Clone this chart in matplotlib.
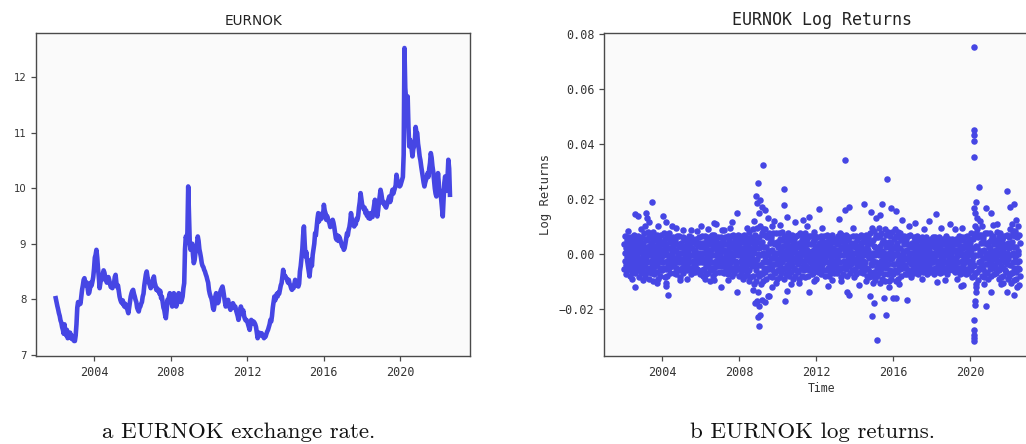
import numpy as np
import matplotlib
matplotlib.use("Agg")
import matplotlib.pyplot as plt
from matplotlib.ticker import FixedLocator, FuncFormatter

# ---------------- data: EURNOK semi-monthly levels ----------------
eurnok_2002 = [8.02, 7.95, 7.88, 7.82, 7.75, 7.70, 7.62, 7.58, 7.50, 7.45, 7.38, 7.55,
               7.42, 7.35, 7.45, 7.30, 7.38, 7.33, 7.40, 7.30, 7.35, 7.28, 7.32, 7.25]
eurnok_2003 = [7.25, 7.35, 7.55, 7.85, 7.95, 7.90, 7.95, 7.92, 8.05, 8.17, 8.25, 8.35,
               8.38, 8.30, 8.25, 8.30, 8.20, 8.10, 8.12, 8.20, 8.30, 8.25, 8.32, 8.40]
eurnok_2004 = [8.55, 8.75, 8.80, 8.89, 8.75, 8.55, 8.40, 8.20, 8.30, 8.42, 8.35, 8.45,
               8.52, 8.48, 8.40, 8.35, 8.30, 8.38, 8.40, 8.35, 8.28, 8.22, 8.25, 8.20]
eurnok_2005 = [8.25, 8.28, 8.40, 8.44, 8.30, 8.22, 8.25, 8.15, 8.05, 7.99, 7.95, 7.93,
               7.98, 7.90, 7.87, 7.92, 7.85, 7.88, 7.80, 7.75, 7.85, 7.95, 8.05, 8.11]
eurnok_2006 = [8.15, 8.17, 8.10, 8.05, 7.99, 7.95, 7.85, 7.81, 7.78, 7.85, 7.87, 7.92,
               7.95, 8.05, 8.10, 8.25, 8.35, 8.45, 8.50, 8.40, 8.35, 8.29, 8.25, 8.20]
eurnok_2007 = [8.23, 8.30, 8.35, 8.41, 8.30, 8.25, 8.17, 8.20, 8.15, 8.17, 8.10, 8.15,
               8.02, 8.05, 7.95, 7.85, 7.81, 7.72, 7.66, 7.80, 7.99, 7.95, 8.05, 8.11]
eurnok_2008 = [8.05, 7.95, 7.87, 7.95, 8.11, 8.05, 7.95, 7.87, 7.92, 8.05, 8.11, 7.98,
               8.02, 7.95, 7.99, 8.05, 8.20, 8.29, 8.90, 9.13, 9.07, 9.20, 10.03, 9.49]
eurnok_2009 = [9.00, 8.89, 8.95, 9.00, 8.80, 8.65, 8.70, 8.83, 8.90, 9.00, 9.13, 9.05,
               8.90, 8.83, 8.75, 8.65, 8.60, 8.58, 8.53, 8.50, 8.45, 8.41, 8.35, 8.30]
eurnok_2010 = [8.17, 8.10, 8.05, 8.02, 7.95, 7.85, 7.81, 7.90, 8.05, 8.11, 8.00, 7.93,
               7.95, 8.05, 8.12, 8.17, 8.20, 8.23, 8.15, 8.05, 7.95, 7.87, 7.92, 7.95]
eurnok_2011 = [7.99, 7.90, 7.85, 7.81, 7.85, 7.90, 7.93, 7.90, 7.85, 7.87, 7.80, 7.75,
               7.70, 7.63, 7.70, 7.80, 7.87, 7.82, 7.75, 7.80, 7.70, 7.65, 7.62, 7.63]
eurnok_2012 = [7.60, 7.55, 7.50, 7.45, 7.55, 7.63, 7.60, 7.57, 7.60, 7.58, 7.55, 7.50,
               7.40, 7.30, 7.35, 7.40, 7.38, 7.35, 7.39, 7.36, 7.33, 7.30, 7.35, 7.33]
eurnok_2013 = [7.38, 7.42, 7.45, 7.50, 7.55, 7.63, 7.60, 7.70, 7.85, 7.95, 8.05, 7.98,
               8.05, 8.10, 8.05, 8.12, 8.10, 8.18, 8.25, 8.29, 8.40, 8.53, 8.45, 8.41]
eurnok_2014 = [8.41, 8.38, 8.35, 8.30, 8.35, 8.28, 8.25, 8.20, 8.17, 8.22, 8.20, 8.28,
               8.35, 8.30, 8.25, 8.30, 8.23, 8.28, 8.50, 8.60, 8.75, 8.90, 9.15, 9.31]
eurnok_2015 = [9.00, 8.77, 8.85, 8.70, 8.60, 8.50, 8.41, 8.55, 8.71, 8.60, 8.80, 8.90,
               9.00, 9.19, 9.15, 9.30, 9.45, 9.55, 9.40, 9.50, 9.49, 9.45, 9.55, 9.49]
eurnok_2016 = [9.70, 9.60, 9.55, 9.43, 9.50, 9.45, 9.40, 9.37, 9.30, 9.40, 9.35, 9.43,
               9.38, 9.30, 9.20, 9.10, 9.07, 9.15, 9.05, 9.13, 9.10, 9.05, 9.00, 8.95]
eurnok_2017 = [8.95, 8.89, 8.92, 9.00, 9.10, 9.19, 9.15, 9.25, 9.30, 9.40, 9.55, 9.45,
               9.40, 9.35, 9.31, 9.40, 9.35, 9.45, 9.43, 9.50, 9.65, 9.75, 9.91, 9.80]
eurnok_2018 = [9.70, 9.67, 9.62, 9.65, 9.55, 9.60, 9.50, 9.55, 9.46, 9.50, 9.45, 9.55,
               9.50, 9.48, 9.60, 9.70, 9.79, 9.65, 9.55, 9.49, 9.60, 9.75, 9.85, 9.97]
eurnok_2019 = [9.90, 9.80, 9.73, 9.75, 9.70, 9.67, 9.65, 9.70, 9.75, 9.80, 9.85, 9.75,
               9.80, 9.90, 9.97, 9.90, 9.95, 10.00, 10.05, 10.24, 10.15, 10.10, 10.05, 10.03]
eurnok_2020 = [10.05, 10.10, 10.15, 10.20, 10.60, 12.52, 11.80, 11.59, 11.40, 11.65, 11.10, 10.75,
               10.87, 10.80, 10.70, 10.57, 10.70, 10.75, 10.85, 11.10, 11.00, 10.99, 10.80, 10.70]
eurnok_2021 = [10.57, 10.50, 10.39, 10.30, 10.20, 10.10, 10.03, 10.10, 10.15, 10.20, 10.27, 10.20,
               10.35, 10.45, 10.63, 10.55, 10.40, 10.30, 10.15, 10.00, 9.90, 9.85, 10.05, 10.27]
eurnok_2022 = [10.10, 9.91, 9.95, 9.80, 9.65, 9.49, 9.80, 10.10, 10.21, 10.00, 9.95, 10.20,
               10.51, 10.35, 9.88]

# ---------------- data: daily log returns (x 1e-3), band ----------------
ret_2002 = [3.5,-5.5,0.5,6.5,-2.5,-7.5,2,-4,5,-1, -6,1.5,4.5,-3,6,-0.5,-5,2.5,-8,5.5,
            0,-4.5,6,-2,3,-6.5,1,-3.5,4,-1.5, 7,-5,2,-0.5,-7,4.5,-2.5,5.5,-4,1,
            -1,3,-6,6.5,-3,0.5,-8.5,4,-2,2.5, 5,-4.5,1.5,-7,3.5,-1.5,6,-5.5,0,-3]
ret_2003 = [4,-6.5,1,7.5,-2,-8.5,2.5,-4.5,5.5,-1, -7,1.5,5,-3,8,-0.5,-5.5,3,-9,6,
            0,-5,6.5,-2.5,3.5,-7,1,-3.5,4.5,-1.5, 8,-5.5,2,-0.5,-7.5,5,-2.5,6,-4.5,1.5,
            -1,3,-6.5,7,-3.5,0.5,-9,4,-2,2.5, 5.5,-5,1.5,-8,3.5,-1.5,7,-6,0,-3]
ret_2004 = [-6,1.5,4.5,-3,7.5,-0.5,-5,2.5,-8.5,5.5, 3.5,-5.5,0.5,7,-2.5,-8,2,-4,6,-1,
            7.5,-5,2,-0.5,-7,4.5,-2.5,5.5,-4,1, 0,-4.5,6,-2,3,-7,1,-3.5,4,-1.5,
            5,-5,1.5,-7.5,3.5,-1.5,6.5,-5.5,0,-3, -1,3,-6,6.5,-3,0.5,-8.5,4,-2,2.5]
ret_2005 = [3,-5,0.5,6,-2.5,-7,2,-4,5,-1, 0,-4.5,5.5,-2,3,-6,1,-3.5,4,-1.5,
            -5.5,1.5,4.5,-3,6.5,-0.5,-5,2.5,-7.5,5, 6,-5,2,-0.5,-6.5,4.5,-2.5,5,-4,1,
            4.5,-4.5,1.5,-6.5,3.5,-1.5,5.5,-5.5,0,-3, -1,3,-6,6,-3,0.5,-7.5,4,-2,2.5]
ret_2006 = [-1,3,-6,6.5,-3,0.5,-8,4,-2,2.5, 3.5,-5.5,0.5,6.5,-2.5,-7.5,2,-4,5,-1,
            5,-4.5,1.5,-7,3.5,-1.5,6,-5.5,0,-3, -6,1.5,4.5,-3,7,-0.5,-5,2.5,-8,5.5,
            7,-5,2,-0.5,-7,4.5,-2.5,5.5,-4,1, 0,-4.5,6,-2,3,-6.5,1,-3.5,4,-1.5]
ret_2007 = [0,-4.5,6,-2,3,-6.5,1,-3.5,4,-1.5, 5,-4.5,1.5,-7,3.5,-1.5,6,-5.5,0,-3,
            3.5,-5.5,0.5,6.5,-2.5,-7.5,2,-4,5,-1, -1,3,-6,6.5,-3,0.5,-8,4,-2,2.5,
            7,-5,2,-0.5,-7,4.5,-2.5,5.5,-4,1, -6,1.5,4.5,-3,7,-0.5,-5,2.5,-8,5.5]
ret_2008 = [3.5,-5.5,0.5,6.5,-2.5,-7.5,2,-4,5,-1, -6,1.5,4.5,-3,7,-0.5,-5,2.5,-8,5.5,
            0,-4.5,6,-2,3,-7,1,-3.5,4,-1.5, 8,-6,2,-0.5,-8.5,5,-3,6,-4.5,1,
            -1.5,4,-8,9,-4,0.5,-11,5,-2.5,3, 7,-6,2,-10,4.5,-2,9.5,-7.5,0,-4]
ret_2009 = [-8,2,6,-4,10,-0.5,-7,3,-11,7.5, 4.5,-7.5,0.5,9,-3,-10,2.5,-5,7,-1,
            9,-6.5,2.5,-0.5,-9,6,-3,7,-5,1, 0,-5.5,7.5,-2.5,4,-8,1,-4,5,-1.5,
            6,-5.5,1.5,-8.5,4,-1.5,7.5,-6.5,0,-3.5, -1,3.5,-7,7.5,-3.5,0.5,-9,4.5,-2,2.5]
ret_2010 = [4,-6,0.5,7.5,-2.5,-8.5,2,-4.5,5.5,-1, -7,1.5,5,-3,8,-0.5,-5.5,3,-9,6,
            0,-5,6.5,-2,3.5,-7.5,1,-4,4.5,-1.5, 7.5,-5.5,2,-0.5,-8,5,-2.5,6,-4.5,1,
            -1,3,-6.5,7,-3.5,0.5,-9,4,-2,2.5, 5.5,-5,1.5,-8,3.5,-1.5,6.5,-6,0,-3]
ret_2011 = [-1,3,-6.5,7,-3.5,0.5,-9,4,-2,2.5, 7.5,-5.5,2,-0.5,-8,5,-2.5,6,-4.5,1,
            4,-6,0.5,7.5,-2.5,-8.5,2,-4.5,5.5,-1, 5.5,-5,1.5,-8,3.5,-1.5,6.5,-6,0,-3,
            0,-5,6.5,-2,3.5,-7.5,1,-4,4.5,-1.5, -7,1.5,5,-3,8,-0.5,-5.5,3,-9,6]
ret_2012 = [0,-4.5,6,-2,3,-6.5,1,-3.5,4,-1.5, 3.5,-5.5,0.5,6.5,-2.5,-7.5,2,-4,5,-1,
            -1,3,-6,6.5,-3,0.5,-8,4,-2,2.5, -6,1.5,4.5,-3,7,-0.5,-5,2.5,-8,5.5,
            5,-4.5,1.5,-7,3.5,-1.5,6,-5.5,0,-3, 7,-5,2,-0.5,-7,4.5,-2.5,5.5,-4,1]
ret_2013 = [5,-4.5,1.5,-7,3.5,-1.5,6.5,-5.5,0,-3, -6,1.5,4.5,-3,7.5,-0.5,-5,2.5,-8.5,5.5,
            7,-5,2,-0.5,-7.5,4.5,-2.5,5.5,-4,1, 3.5,-5.5,0.5,7,-2.5,-8,2,-4,5,-1,
            0,-4.5,6,-2,3,-7,1,-3.5,4,-1.5, -1,3,-6,6.5,-3,0.5,-8.5,4,-2,2.5]
ret_2014 = [3.5,-5.5,0.5,6.5,-2.5,-7.5,2,-4,5,-1, 0,-4.5,6,-2,3,-6.5,1,-3.5,4,-1.5,
            7,-5,2,-0.5,-7,4.5,-2.5,5.5,-4,1, -6,1.5,4.5,-3,7,-0.5,-5,2.5,-8,5.5,
            6,-5.5,1.5,-8.5,4,-1.5,7.5,-6.5,0,-3.5, -1.5,4,-8,9.5,-4,0.5,-10.5,5,-2.5,3]
ret_2015 = [8.5,-6.5,2.5,-0.5,-9.5,6,-3,7,-5,1, -8,2,6,-4,9.5,-0.5,-7,3,-10.5,7,
            0,-5.5,7.5,-2.5,4,-9,1,-4,5,-1.5, 4.5,-7.5,0.5,9,-3,-10,2.5,-5,7,-1,
            -1,3.5,-7.5,8,-3.5,0.5,-10,4.5,-2,2.5, 6.5,-6,1.5,-9,4,-1.5,8,-7,0,-3.5]
ret_2016 = [-7.5,2,5.5,-3.5,9,-0.5,-6,3,-10,6.5, 4,-6.5,0.5,8,-2.5,-9,2,-4.5,6,-1,
            7.5,-5.5,2,-0.5,-8,5,-2.5,6,-4.5,1, 0,-5,6.5,-2,3.5,-7.5,1,-4,4.5,-1.5,
            5.5,-5,1.5,-7.5,3.5,-1.5,6.5,-6,0,-3, -1,3,-6.5,7,-3.5,0.5,-8.5,4,-2,2.5]
ret_2017 = [3,-5,0.5,6,-2.5,-7,2,-4,5,-1, -5.5,1.5,4.5,-3,6.5,-0.5,-5,2.5,-7.5,5,
            0,-4.5,5.5,-2,3,-6,1,-3.5,4,-1.5, 6,-5,2,-0.5,-6.5,4.5,-2.5,5,-4,1,
            -1,3,-6,6,-3,0.5,-7.5,4,-2,2.5, 4.5,-4.5,1.5,-6.5,3.5,-1.5,5.5,-5.5,0,-3]
ret_2018 = [-1,3,-6,6,-3,0.5,-7.5,4,-2,2.5, 6,-5,2,-0.5,-6.5,4.5,-2.5,5,-4,1,
            3,-5,0.5,6,-2.5,-7,2,-4,5,-1, 4.5,-4.5,1.5,-6.5,3.5,-1.5,5.5,-5.5,0,-3,
            -5.5,1.5,4.5,-3,6.5,-0.5,-5,2.5,-7.5,5, 0,-4.5,5.5,-2,3,-6,1,-3.5,4,-1.5]
ret_2019 = [0,-4.5,5.5,-2,3,-6,1,-3.5,4,-1.5, 4.5,-4.5,1.5,-6.5,3.5,-1.5,5.5,-5.5,0,-3,
            -5.5,1.5,4.5,-3,6.5,-0.5,-5,2.5,-7.5,5, 3,-5,0.5,6,-2.5,-7,2,-4,5,-1,
            -1,3,-6,6,-3,0.5,-7.5,4,-2,2.5, 6.5,-5.5,2,-0.5,-7,4.5,-2.5,5.5,-4,1]
ret_2020 = [4,-6,0.5,7.5,-2.5,-8.5,2,-4.5,5.5,-1, -8,2,6,-4,10,-0.5,-7,3,-11,7.5,
            9,-6.5,2.5,-0.5,-9.5,6,-3,7,-5,1, 0,-5.5,7,-2.5,4,-8,1,-4,5,-1.5,
            6,-5.5,1.5,-8.5,4,-1.5,7.5,-6.5,0,-3.5, -1,3.5,-7,7.5,-3.5,0.5,-9,4.5,-2,2.5]
ret_2021 = [7.5,-5.5,2,-0.5,-8,5,-2.5,6,-4.5,1, 0,-5,6.5,-2,3.5,-7.5,1,-4,4.5,-1.5,
            -7,1.5,5,-3,8,-0.5,-5.5,3,-9,6, 4,-6,0.5,7.5,-2.5,-8.5,2,-4.5,5.5,-1,
            5.5,-5,1.5,-8,3.5,-1.5,6.5,-6,0,-3, -1,3,-6.5,7,-3.5,0.5,-9,4,-2,2.5]
ret_2022 = [-8,2,6,-4,9,-0.5,-7,3,-10.5,7, 4.5,-7,0.5,8.5,-3,-9.5,2.5,-5,6.5,-1,
            8.5,-6.5,2.5,-0.5,-9,6,-3,7,-5,1, 0,-5.5,7,-2.5,4,-8]

# isolated large returns (date as decimal year, value x 1e-3)
outlier_dates = [2002.58, 2002.75, 2002.60, 2003.15, 2003.23, 2003.10, 2003.45, 2003.30, 2003.00, 2003.70,
                 2004.05, 2004.20, 2004.50, 2004.17, 2004.20, 2004.30, 2005.10, 2005.50, 2006.00, 2006.70,
                 2006.80, 2007.10, 2007.20, 2007.64, 2007.86, 2006.20, 2006.70, 2007.05, 2007.86, 2008.20,
                 2008.85, 2008.95, 2009.25, 2008.90, 2009.10, 2009.20, 2009.35, 2009.50, 2008.75, 2009.00,
                 2008.82, 2008.90, 2008.98, 2009.04, 2009.10, 2009.20, 2009.35, 2009.50, 2008.70, 2009.00,
                 2008.95, 2010.35, 2010.35, 2010.50, 2010.90, 2011.30, 2011.60, 2012.17, 2009.57, 2010.38,
                 2010.50, 2011.10, 2011.65, 2012.60, 2009.80, 2009.70, 2013.17, 2013.48, 2013.50, 2013.70,
                 2014.47, 2013.60, 2013.69, 2014.20, 2014.87, 2015.40, 2015.69, 2015.90, 2016.17, 2016.45,
                 2014.80, 2014.92, 2015.00, 2015.18, 2015.50, 2015.65, 2016.00, 2016.17, 2016.70, 2015.30,
                 2015.10, 2015.80, 2017.15, 2017.88, 2018.20, 2018.96, 2019.60, 2018.30, 2019.50, 2019.65,
                 2020.20, 2020.19, 2020.20, 2020.21, 2020.19, 2020.45, 2020.30, 2020.22, 2020.25, 2020.35,
                 2020.20, 2020.20, 2020.21, 2020.19, 2020.22, 2020.25, 2020.24, 2020.32, 2020.83, 2020.30,
                 2020.50, 2020.83, 2021.10, 2021.90, 2022.05, 2022.30, 2022.40, 2022.50, 2021.10, 2021.90,
                 2022.30, 2022.45, 2021.40, 2021.60]
outlier_values = [14.5, 13.9, -12.2, 14.9, 13.0, 10.0, 18.9, 11.5, -9.5, -10.5,
                  13.7, 11.8, 10.0, -10.7, -11.7, -14.8, 8.8, 8.8, 10.2, 11.2,
                  11.0, 8.8, 8.8, 11.5, 14.9, -9.3, -9.5, -12.2, -13.8, -9.0,
                  21.0, 26.0, 32.3, 18.5, 19.8, 17.0, 16.0, 13.0, 12.0, 15.0,
                  -18.0, -17.0, -23.0, -26.3, -22.3, -16.8, -17.4, -15.4, -13.0, -19.0,
                  -14.0, 23.5, 17.8, 13.6, 11.8, 12.4, 13.6, 16.2, -15.3, -17.3,
                  -13.5, -10.7, -13.7, -11.6, 12.0, -12.0, 12.7, 34.4, 16.0, 17.2,
                  18.2, -13.7, -14.9, -11.3, 15.4, 18.2, 27.4, 16.6, 15.8, 12.5,
                  -15.5, -22.5, -17.9, -31.5, -16.1, -22.2, -15.9, -16.0, -16.7, 14.0,
                  13.0, -12.0, 11.4, 12.1, 14.4, 10.9, 9.3, -10.4, -11.6, -11.3,
                  75.4, 45.3, 43.3, 41.2, 35.2, 24.5, 18.8, 16.6, 15.0, 13.0,
                  -31.9, -30.7, -29.5, -27.9, -24.2, -18.5, -17.0, -13.7, -18.9, -12.0,
                  12.0, 16.6, 15.0, 23.0, 17.0, 18.2, 12.4, 10.0, -13.9, -13.7,
                  -14.8, -11.9, 11.0, -11.0]

# moderate returns at the fuzzy edge of the band (decimal year, value x 1e-3)
edge_dates = [2002.20, 2002.40, 2002.90, 2003.50, 2003.80, 2004.70, 2004.90, 2005.30, 2005.80, 2006.40,
              2006.50, 2007.40, 2007.50, 2008.40, 2008.50, 2009.70, 2009.90, 2010.10, 2010.70, 2011.50,
              2011.90, 2012.30, 2012.80, 2013.30, 2013.90, 2014.60, 2016.30, 2016.80, 2017.50, 2017.60,
              2018.50, 2018.70, 2019.20, 2019.30, 2020.60, 2020.70, 2021.20, 2021.70, 2022.20, 2022.55]
edge_values = [8.5, -9.0, 9.0, -10.0, 10.0, 9.5, -9.5, -9.0, 8.5, 9.0,
               -10.0, -9.5, 9.5, 9.5, -10.0, 10.0, -10.5, 10.5, -11.0, 10.0,
               -10.0, 9.5, -9.5, -10.0, 9.5, -10.0, -11.0, 10.0, -9.0, 9.0,
               9.5, -9.5, 9.0, -9.0, 10.0, -11.0, 10.5, -10.5, 11.0, -11.5]

year_ticks = [2004, 2008, 2012, 2016, 2020]
level_ticks = [7, 8, 9, 10, 11, 12]
return_ticks = [-0.02, 0.00, 0.02, 0.04, 0.06, 0.08]

titles = ["EURNOK", "EURNOK Log Returns"]
captions = ["a EURNOK exchange rate.", "b EURNOK log returns."]

# ---------------- assemble series ----------------
first_year = 2002
level_years = [eurnok_2002, eurnok_2003, eurnok_2004, eurnok_2005, eurnok_2006, eurnok_2007,
               eurnok_2008, eurnok_2009, eurnok_2010, eurnok_2011, eurnok_2012, eurnok_2013,
               eurnok_2014, eurnok_2015, eurnok_2016, eurnok_2017, eurnok_2018, eurnok_2019,
               eurnok_2020, eurnok_2021, eurnok_2022]
lvl_t, lvl_v = [], []
for k, arr in enumerate(level_years):
    for i, v in enumerate(arr):
        lvl_t.append(first_year + k + i / 24.0)
        lvl_v.append(v)

ret_years = [ret_2002, ret_2003, ret_2004, ret_2005, ret_2006, ret_2007, ret_2008, ret_2009,
             ret_2010, ret_2011, ret_2012, ret_2013, ret_2014, ret_2015, ret_2016, ret_2017,
             ret_2018, ret_2019, ret_2020, ret_2021, ret_2022]
ret_t, ret_v = [], []
for k, arr in enumerate(ret_years):
    span = 1.0 if k < len(ret_years) - 1 else 0.6
    n = len(arr)
    for i, v in enumerate(arr):
        ret_t.append(first_year + k + span * (i + 0.5) / n)
        ret_v.append(v * 1e-3)
ret_t += outlier_dates + edge_dates
ret_v += [v * 1e-3 for v in outlier_values + edge_values]

# ---------------- figure ----------------
W, H = 1026, 444
fig = plt.figure(figsize=(W / 100, H / 100), dpi=100)
blue = "#4646e4"
spine_c = "#4a4a4a"
text_c = "#333333"
face = "#fafafa"

def px_axes(x0, y0, x1, y1):
    return fig.add_axes([x0 / W, 1 - y1 / H, (x1 - x0) / W, (y1 - y0) / H])

ax1 = px_axes(36, 33, 470, 356)
ax2 = px_axes(604, 33, 1040, 356)

for ax in (ax1, ax2):
    ax.set_facecolor(face)
    for s in ax.spines.values():
        s.set_color(spine_c)
        s.set_linewidth(1.0)
    ax.tick_params(colors=spine_c, labelcolor=text_c, length=3.5, width=0.9)
    ax.set_xlim(2000.97, 2023.63)
    ax.xaxis.set_major_locator(FixedLocator(year_ticks))
    ax.xaxis.set_major_formatter(FuncFormatter(lambda v, p: f"{int(round(v))}"))

ax1.plot(lvl_t, lvl_v, color=blue, lw=3.3, solid_joinstyle="round")
ax1.set_ylim(6.98, 12.79)
ax1.yaxis.set_major_locator(FixedLocator(level_ticks))
ax1.set_title(titles[0], fontsize=9.8, family="DejaVu Sans", color="#222222", pad=6)
for lab in ax1.get_xticklabels():
    lab.set_family("DejaVu Sans Mono"); lab.set_fontsize(8.5)
for lab in ax1.get_yticklabels():
    lab.set_family("DejaVu Sans"); lab.set_fontsize(7.3)

ax2.scatter(ret_t, ret_v, s=22, color=blue, linewidths=0)
ax2.set_ylim(-0.0372, 0.0805)
ax2.yaxis.set_major_locator(FixedLocator(return_ticks))
ax2.yaxis.set_major_formatter(FuncFormatter(lambda v, p: f"{v:.2f}".replace("-", "\u2212")))
ax2.set_title(titles[1], fontsize=12, family="DejaVu Sans Mono", color="#222222", pad=6)
ax2.set_ylabel("Log Returns", fontsize=8.8, family="DejaVu Sans Mono", color=text_c, labelpad=5)
ax2.set_xlabel("Time", fontsize=8.3, family="DejaVu Sans Mono", color=text_c, labelpad=2)
for lab in ax2.get_xticklabels() + ax2.get_yticklabels():
    lab.set_family("DejaVu Sans Mono"); lab.set_fontsize(8.5)

fig.text(239 / W, 1 - 437.5 / H, captions[0], family="cmr10", fontsize=16.5,
         ha="center", va="baseline", color="#111111")
fig.text(813 / W, 1 - 437.5 / H, captions[1], family="cmr10", fontsize=16.5,
         ha="center", va="baseline", color="#111111")

fig.savefig("out.png", dpi=100, facecolor="white")
